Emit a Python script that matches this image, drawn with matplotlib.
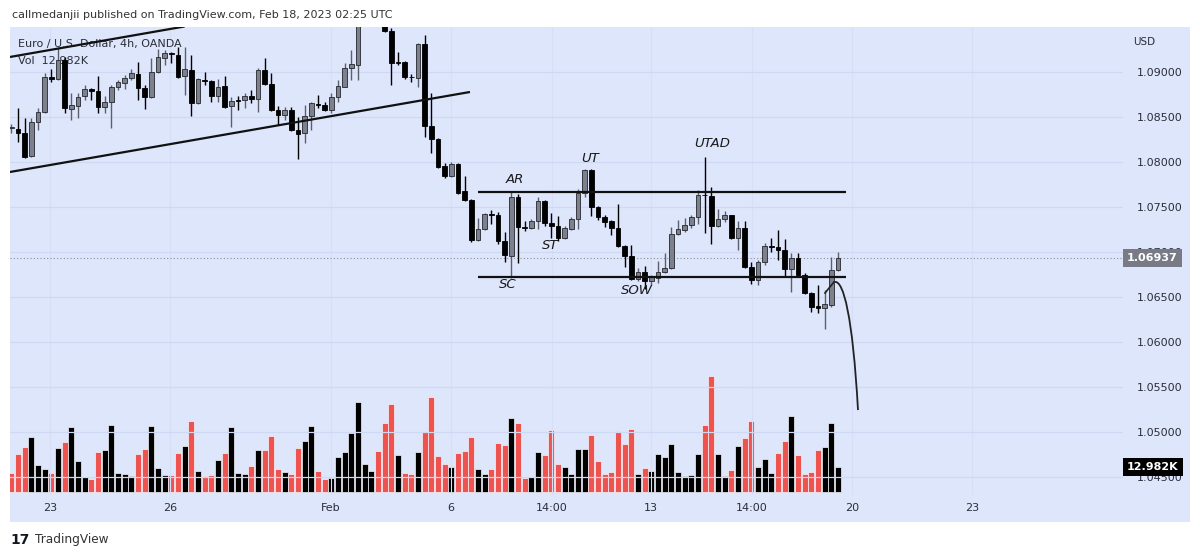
import numpy as np
import matplotlib
matplotlib.use('Agg')
import matplotlib.pyplot as plt
import matplotlib.patches as patches
from matplotlib.path import Path
from matplotlib.transforms import blended_transform_factory

# EUR/USD 4h candles (index = candle number)
opens = [1.08378, 1.08367, 1.08322, 1.08067, 1.08444, 1.08556, 1.08944, 1.08922, 1.09133, 1.08589,
         1.08622, 1.08733, 1.08811, 1.08789, 1.08611, 1.08667, 1.08833, 1.08878, 1.08933, 1.08978,
         1.08822, 1.08722, 1.09000, 1.09156, 1.09211, 1.09189, 1.08956, 1.09022, 1.08656, 1.08911,
         1.08900, 1.08733, 1.08844, 1.08622, 1.08689, 1.08689, 1.08733, 1.08700, 1.09022, 1.08867,
         1.08578, 1.08522, 1.08578, 1.08356, 1.08322, 1.08511, 1.08644, 1.08633, 1.08578, 1.08722,
         1.08833, 1.09044, 1.09078, 1.09600, 1.09900, 1.10200, 1.09800, 1.09456, 1.09106, 1.09111,
         1.08944, 1.08933, 1.09311, 1.08400, 1.08256, 1.07956, 1.07844, 1.07978, 1.07678, 1.07578,
         1.07133, 1.07256, 1.07422, 1.07411, 1.07122, 1.06956, 1.07611, 1.07278, 1.07267, 1.07344,
         1.07567, 1.07322, 1.07289, 1.07156, 1.07256, 1.07367, 1.07656, 1.07911, 1.07500, 1.07389,
         1.07344, 1.07267, 1.07067, 1.06956, 1.06700, 1.06778, 1.06678, 1.06711, 1.06778, 1.06822,
         1.07200, 1.07244, 1.07300, 1.07389, 1.07633, 1.07622, 1.07289, 1.07367, 1.07411, 1.07156,
         1.07267, 1.06833, 1.06689, 1.06889, 1.07067, 1.07056, 1.07022, 1.06811, 1.06933, 1.06744,
         1.06544, 1.06400, 1.06378, 1.06411, 1.06800]
highs = [1.08422, 1.08600, 1.08489, 1.08489, 1.08600, 1.08989, 1.09033, 1.09278, 1.09167, 1.08767,
         1.08767, 1.08856, 1.08822, 1.08956, 1.08733, 1.08856, 1.08911, 1.08967, 1.09033, 1.09111,
         1.08856, 1.09156, 1.09256, 1.09244, 1.09222, 1.09278, 1.09278, 1.09189, 1.08933, 1.09000,
         1.08911, 1.08922, 1.08956, 1.08722, 1.08733, 1.08767, 1.08800, 1.09044, 1.09156, 1.08989,
         1.08622, 1.08611, 1.08611, 1.08500, 1.08633, 1.08667, 1.08744, 1.08667, 1.08767, 1.08911,
         1.09100, 1.09244, 1.09750, 1.10000, 1.10330, 1.10280, 1.09900, 1.09489, 1.09222, 1.09122,
         1.08978, 1.09322, 1.09411, 1.08767, 1.08267, 1.07989, 1.08000, 1.07989, 1.07844, 1.07589,
         1.07378, 1.07433, 1.07467, 1.07444, 1.07222, 1.07667, 1.07644, 1.07344, 1.07367, 1.07611,
         1.07578, 1.07433, 1.07400, 1.07289, 1.07389, 1.07700, 1.07922, 1.07922, 1.07511, 1.07411,
         1.07356, 1.07533, 1.07078, 1.07078, 1.06822, 1.06844, 1.06744, 1.06900, 1.06989, 1.07278,
         1.07356, 1.07378, 1.07411, 1.07689, 1.08056, 1.07722, 1.07478, 1.07456, 1.07411, 1.07344,
         1.07344, 1.06889, 1.06911, 1.07100, 1.07156, 1.07244, 1.07144, 1.06989, 1.06989, 1.06767,
         1.06556, 1.06633, 1.06578, 1.06944, 1.07000]
lows = [1.08322, 1.08222, 1.08044, 1.08056, 1.08356, 1.08544, 1.08889, 1.08911, 1.08544, 1.08467,
        1.08489, 1.08689, 1.08689, 1.08544, 1.08544, 1.08378, 1.08800, 1.08811, 1.08911, 1.08689,
        1.08589, 1.08711, 1.08989, 1.09078, 1.09100, 1.08933, 1.08744, 1.08511, 1.08644, 1.08856,
        1.08667, 1.08667, 1.08600, 1.08389, 1.08578, 1.08600, 1.08656, 1.08556, 1.08856, 1.08567,
        1.08411, 1.08467, 1.08344, 1.08033, 1.08211, 1.08356, 1.08600, 1.08567, 1.08544, 1.08667,
        1.08833, 1.08911, 1.08911, 1.09550, 1.09850, 1.09700, 1.09444, 1.08856, 1.09078, 1.08922,
        1.08889, 1.08833, 1.08278, 1.08100, 1.07933, 1.07822, 1.07833, 1.07644, 1.07567, 1.07111,
        1.07122, 1.07244, 1.07311, 1.07089, 1.06889, 1.06711, 1.06878, 1.07233, 1.07256, 1.07256,
        1.07289, 1.07156, 1.07122, 1.07144, 1.07244, 1.07256, 1.07611, 1.07400, 1.07356, 1.07278,
        1.07189, 1.07056, 1.06833, 1.06689, 1.06678, 1.06589, 1.06633, 1.06656, 1.06767, 1.06811,
        1.07189, 1.07222, 1.07267, 1.07311, 1.07211, 1.07089, 1.07278, 1.07333, 1.07144, 1.07022,
        1.06822, 1.06644, 1.06633, 1.06856, 1.07000, 1.06911, 1.06733, 1.06556, 1.06733, 1.06533,
        1.06333, 1.06322, 1.06144, 1.06389, 1.06789]
closes = [1.08384, 1.08322, 1.08056, 1.08444, 1.08556, 1.08944, 1.08922, 1.09133, 1.08600, 1.08633,
          1.08722, 1.08811, 1.08794, 1.08611, 1.08667, 1.08833, 1.08889, 1.08933, 1.08989, 1.08822,
          1.08722, 1.09000, 1.09167, 1.09211, 1.09200, 1.08944, 1.09033, 1.08656, 1.08922, 1.08900,
          1.08733, 1.08833, 1.08611, 1.08678, 1.08678, 1.08733, 1.08700, 1.09022, 1.08867, 1.08578,
          1.08522, 1.08578, 1.08356, 1.08311, 1.08511, 1.08656, 1.08628, 1.08578, 1.08722, 1.08844,
          1.09044, 1.09089, 1.09600, 1.09900, 1.10200, 1.09800, 1.09456, 1.09100, 1.09100, 1.08944,
          1.08939, 1.09311, 1.08400, 1.08256, 1.07944, 1.07844, 1.07978, 1.07656, 1.07578, 1.07133,
          1.07256, 1.07422, 1.07411, 1.07122, 1.06967, 1.07611, 1.07278, 1.07267, 1.07344, 1.07567,
          1.07322, 1.07289, 1.07156, 1.07267, 1.07367, 1.07656, 1.07911, 1.07500, 1.07389, 1.07333,
          1.07267, 1.07067, 1.06956, 1.06700, 1.06778, 1.06678, 1.06722, 1.06778, 1.06822, 1.07200,
          1.07256, 1.07300, 1.07389, 1.07633, 1.07628, 1.07289, 1.07367, 1.07411, 1.07156, 1.07267,
          1.06833, 1.06689, 1.06889, 1.07067, 1.07056, 1.07022, 1.06811, 1.06933, 1.06744, 1.06544,
          1.06389, 1.06378, 1.06422, 1.06800, 1.06937]

# volume in thousands, with the bar colour shown on the chart (r = red, k = black)
volumes_k = [10.0, 19.7, 23.5, 28.7, 13.9, 12.1, 9.9, 22.8, 26.1, 33.6,
             15.9, 7.6, 6.9, 20.8, 21.8, 34.9, 9.9, 9.3, 8.5, 19.7,
             22.2, 34.4, 12.5, 8.8, 8.8, 20.3, 23.7, 36.9, 10.9, 8.3,
             8.8, 16.8, 20.3, 33.9, 9.9, 9.3, 13.3, 21.8, 21.8, 29.1,
             11.9, 10.4, 9.3, 22.7, 26.5, 34.4, 10.9, 6.9, 7.4, 18.2,
             20.8, 30.6, 46.7, 14.7, 10.9, 21.3, 36.0, 45.7, 19.2, 9.9,
             9.3, 20.8, 31.2, 49.2, 18.7, 14.5, 13.0, 20.3, 21.3, 28.6,
             11.9, 9.3, 11.9, 25.6, 24.6, 38.4, 35.8, 7.4, 7.9, 20.8,
             19.2, 32.0, 14.4, 13.0, 9.3, 22.3, 22.3, 29.6, 16.3, 9.3,
             10.4, 31.5, 25.1, 32.6, 9.3, 12.5, 10.9, 19.7, 18.2, 25.1,
             10.4, 8.5, 8.8, 19.7, 34.8, 60.4, 19.7, 8.5, 11.4, 23.7,
             28.0, 37.0, 13.0, 17.3, 9.9, 20.3, 26.6, 39.5, 19.2, 9.3,
             10.4, 21.7, 23.2, 35.8, 12.982]
vol_colors = ("rrrkkkrkrk" "kkrrkkkkkr" "rkkkrrkrkr" "rkrkkkrkrr"
              "rkrrkkrrkk" "kkkkkrrrkr" "rkrrrrkrrr" "kkrrrkrrkk"
              "rrrkkkkrrr" "rrrrkrkkkk" "kkkkrrkkrk" "rrkkkrrkrr" "rrkkk")

price_ticks = [1.045, 1.050, 1.055, 1.060, 1.065, 1.070, 1.075, 1.080, 1.085, 1.090]
x_tick_pos = [5.8, 23.8, 47.9, 65.9, 81.1, 96.0, 111.1, 126.1, 144.1]
x_tick_labels = ['23', '26', 'Feb', '6', '14:00', '13', '14:00', '20', '23']

# drawings on the chart (candle index, price)
channel_top_x = [-0.2, 26.0]
channel_top_y = [1.09167, 1.09506]
trend_x = [-0.2, 68.8]
trend_y = [1.07889, 1.08778]
range_x = [70.0, 125.2]
range_high = 1.07667
range_low = 1.06722
stem_x = [122.05, 123.4]
stem_y = [1.06544, 1.06667]
curve_x = [123.55, 124.8, 126.2, 127.0]
curve_y = [1.06667, 1.06680, 1.06300, 1.05244]
wyckoff_labels = ['AR', 'UT', 'UTAD', 'ST', 'SC', 'SOW']
wyckoff_x = [75.5, 86.8, 105.2, 80.8, 74.5, 93.9]
wyckoff_y = [1.07800, 1.08044, 1.08200, 1.07067, 1.06644, 1.06567]

last_close = closes[-1]
last_vol = volumes_k[-1]

W, H = 1200, 558
bg = '#dee6fc'
grid_c = '#cfd9f4'
txt_c = '#2a2e39'
up_face = '#7d818c'
up_wick = '#5d606b'

fig = plt.figure(figsize=(W / 100, H / 100), dpi=100)
fig.patch.set_facecolor('white')
fig.patches.append(patches.Rectangle((10 / W, 1 - 522 / H), 1180 / W, 495 / H,
                                     transform=fig.transFigure, facecolor=bg,
                                     edgecolor='none', zorder=-10))

ax = fig.add_axes([10 / W, 1 - 495 / H, 1113 / W, 468 / H])
ax.set_xlim(-0.195, 166.75)
ax.set_ylim(1.043, 1.095)

# volume on its own scale, under the candles
ax2 = ax.twinx()
ax2.set_ylim(-1.558, 241.5)
ax2.axis('off')
ax2.set_zorder(ax.get_zorder() - 1)
ax.patch.set_visible(False)
ax2.patch.set_visible(False)
idx = np.arange(len(closes))
vcols = ['#ef5350' if c == 'r' else '#000000' for c in vol_colors]
ax2.bar(idx, volumes_k, width=0.86, color=vcols, edgecolor='#f4f6fc', linewidth=0.5)

for s in ax.spines.values():
    s.set_visible(False)
ax.set_axisbelow(True)
ax.yaxis.tick_right()
ax.set_yticks(price_ticks)
ax.set_yticklabels([f'{p:.5f}' for p in price_ticks])
ax.set_xticks(x_tick_pos)
ax.set_xticklabels(x_tick_labels)
ax.tick_params(axis='y', length=0, pad=10, labelsize=8, labelcolor=txt_c)
ax.tick_params(axis='x', length=0, pad=6, labelsize=8, labelcolor=txt_c)
ax.grid(axis='y', color=grid_c, linewidth=0.9)
ax.grid(axis='x', color='#d6dff7', linewidth=0.8)

# candles
o = np.array(opens)
c = np.array(closes)
up = c >= o
body_lo = np.minimum(o, c)
body_h = np.maximum(np.abs(c - o), 0.00009)
ax.vlines(idx[up], np.array(lows)[up], np.array(highs)[up], color=up_wick, linewidth=1.0, zorder=2)
ax.vlines(idx[~up], np.array(lows)[~up], np.array(highs)[~up], color='black', linewidth=1.0, zorder=2)
ax.bar(idx[up], body_h[up], bottom=body_lo[up], width=0.72, color=up_face,
       edgecolor='#25272e', linewidth=0.6, zorder=3)
ax.bar(idx[~up], body_h[~up], bottom=body_lo[~up], width=0.72, color='black',
       edgecolor='black', linewidth=0.6, zorder=3)

# last price dotted line
ax.axhline(last_close, color='#8a8e99', linestyle=(0, (1, 2)), linewidth=0.8, zorder=1)

# drawings
lk = dict(color='#111111', linewidth=1.6, zorder=4, solid_capstyle='butt')
ax.plot(channel_top_x, channel_top_y, **lk)
ax.plot(trend_x, trend_y, **lk)
ax.plot(range_x, [range_high, range_high], **lk)
ax.plot(range_x, [range_low, range_low], **lk)
ax.plot(stem_x, stem_y, color='#222222', linewidth=1.2, zorder=4)
curve = Path(list(zip(curve_x, curve_y)), [Path.MOVETO, Path.CURVE4, Path.CURVE4, Path.CURVE4])
ax.add_patch(patches.PathPatch(curve, facecolor='none', edgecolor='#222222', linewidth=1.3,
                               zorder=4, clip_on=False))
for lab, lx, ly in zip(wyckoff_labels, wyckoff_x, wyckoff_y):
    ax.text(lx, ly, lab, fontsize=9.5, style='italic', color='#1a1a1a',
            ha='center', va='center', zorder=5)

# legend text in the top-left corner
ax.text(8 / 1113, 1 - 17 / 468, 'Euro / U.S. Dollar, 4h, OANDA', transform=ax.transAxes,
        fontsize=8, color=txt_c, va='center', ha='left', zorder=1)
ax.text(8 / 1113, 1 - 34 / 468, 'Vol  12.982K', transform=ax.transAxes,
        fontsize=8, color=txt_c, va='center', ha='left', zorder=1)

# price / volume labels on the scale
tr = blended_transform_factory(ax.transAxes, ax.transData)
ax.annotate(f'{last_close:.5f}', xy=(1, last_close), xycoords=tr, xytext=(3, 0),
            textcoords='offset points', ha='left', va='center', fontsize=8,
            fontweight='bold', color='white', annotation_clip=False,
            bbox=dict(boxstyle='square,pad=0.35', fc='#787b86', ec='none'))
tr2 = blended_transform_factory(ax.transAxes, ax2.transData)
ax.annotate(f'{last_vol:.3f}K', xy=(1, last_vol), xycoords=tr2, xytext=(3, 0),
            textcoords='offset points', ha='left', va='center', fontsize=8,
            fontweight='bold', color='white', annotation_clip=False,
            bbox=dict(boxstyle='square,pad=0.35', fc='black', ec='none'))

fig.text(1133 / W, 1 - 42 / H, 'USD', fontsize=7.5, color=txt_c, va='center', ha='left')
fig.text(12 / W, 1 - 15 / H, 'callmedanjii published on TradingView.com, Feb 18, 2023 02:25 UTC',
         fontsize=8.0, color='#333333', va='center', ha='left')
fig.text(10 / W, 1 - 540 / H, '17', fontsize=10, fontweight='heavy', color='#131722',
         va='center', ha='left')
fig.text(35 / W, 1 - 540 / H, 'TradingView', fontsize=8.7, color='#333333', va='center', ha='left')

fig.savefig('out.png', dpi=100, facecolor='white')
